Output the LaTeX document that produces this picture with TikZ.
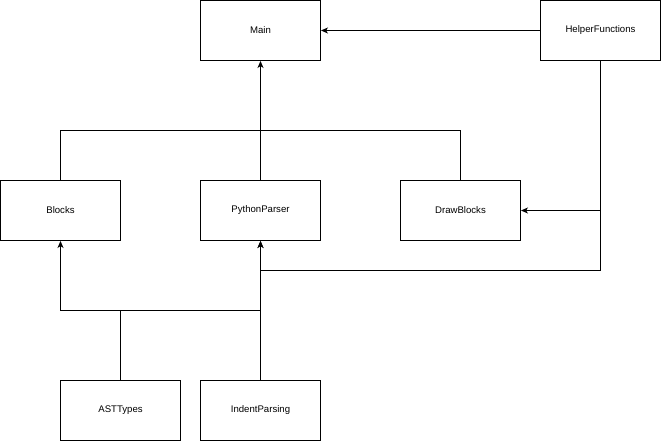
\documentclass[tikz,border=0pt]{standalone}
\usepackage{fontspec}
\setmainfont{Liberation Sans}
\usetikzlibrary{arrows.meta}
\begin{document}
\begin{tikzpicture}[x=1pt,y=-1pt,
  box/.style={draw,line width=1pt,minimum width=120pt,minimum height=60pt,inner sep=0pt,font=\fontsize{9.6}{11}\selectfont},
  conn/.style={line width=1pt,-{Stealth[length=7pt,width=6pt,inset=2pt]}},
  plain/.style={line width=1pt}]
\useasboundingbox (0,0) rectangle (661,441);
\fill[white] (0,0) rectangle (661,441);
\node[box] (main) at (260.5,30.5) {Main};
\node[box] (helper) at (600.5,30.5) {HelperFunctions};
\node[box] (blocks) at (60.5,210.5) {Blocks};
\node[box] (parser) at (260.5,210.5) {PythonParser};
\node[box] (draw) at (460.5,210.5) {DrawBlocks};
\node[box] (ast) at (120.5,410.5) {ASTTypes};
\node[box] (indent) at (260.5,410.5) {IndentParsing};
\coordinate (j1) at (260.5,130.5);
\coordinate (hr) at (600.5,210.5);
\coordinate (hb) at (600.5,270.5);
\coordinate (pj) at (260.5,270.5);
\coordinate (bj) at (260.5,310.5);
\coordinate (bl) at (60.5,310.5);
\draw[conn] (helper.west) -- (main.east);
\draw[conn] (parser.north) -- (main.south);
\draw[plain] (blocks.north) |- (j1);
\draw[plain] (draw.north) |- (j1);
\draw[conn] (helper.south) -- (hr) -- (draw.east);
\draw[conn] (hr) -- (hb) -- (pj) -- (parser.south);
\draw[conn] (ast.north) |- (bl) -- (blocks.south);
\draw[conn] (indent.north) -- (bj) -- (parser.south);
\draw[plain] (bj) -- (bl);
\end{tikzpicture}
\end{document}
